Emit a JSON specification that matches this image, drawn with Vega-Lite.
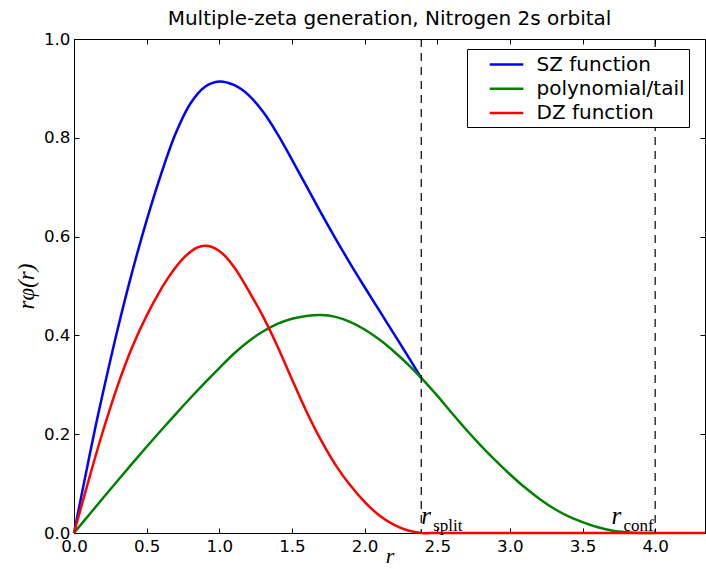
{
  "$schema": "https://vega.github.io/schema/vega-lite/v6.json",
  "width": 631,
  "height": 494,
  "autosize": {"type": "none"},
  "padding": {"left": 74, "top": 39, "right": 1, "bottom": 36},
  "background": "white",
  "title": {"text": "Multiple-zeta generation, Nitrogen 2s orbital", "font": "DejaVu Sans", "fontSize": 20, "fontWeight": "normal", "color": "black", "anchor": "middle", "offset": 2},
  "config": {
    "view": {"stroke": "black", "strokeWidth": 1},
    "axis": {"domainColor": "black", "domainWidth": 1, "tickColor": "black", "labelColor": "black", "labelFont": "DejaVu Sans", "labelFontSize": 16.7, "grid": false, "tickSize": -5, "tickWidth": 1, "labelFlush": false, "labelOverlap": false, "titleColor": "black", "titleFont": "Liberation Serif", "titleFontStyle": "italic", "titleFontWeight": "normal", "titleFontSize": 23},
    "legend": {"orient": "none", "legendX": 393, "legendY": 10, "title": null, "symbolType": "M-1.6,0H1.6", "symbolSize": 441, "symbolStrokeWidth": 2.5, "labelFont": "DejaVu Sans", "labelFontSize": 20, "labelColor": "black", "strokeColor": "black", "fillColor": "white", "padding": 3.5, "symbolOffset": 24, "labelOffset": 18, "rowPadding": 2.3, "cornerRadius": 0, "labelLimit": 400}
  },
  "datasets": {
    "curves": [
      {"r": 0, "v": 0, "series": "SZ function"},
      {"r": 0.05, "v": 0.074, "series": "SZ function"},
      {"r": 0.1, "v": 0.147, "series": "SZ function"},
      {"r": 0.15, "v": 0.218, "series": "SZ function"},
      {"r": 0.2, "v": 0.285, "series": "SZ function"},
      {"r": 0.3, "v": 0.412, "series": "SZ function"},
      {"r": 0.4, "v": 0.528, "series": "SZ function"},
      {"r": 0.5, "v": 0.633, "series": "SZ function"},
      {"r": 0.6, "v": 0.727, "series": "SZ function"},
      {"r": 0.7, "v": 0.809, "series": "SZ function"},
      {"r": 0.8, "v": 0.869, "series": "SZ function"},
      {"r": 0.9, "v": 0.903, "series": "SZ function"},
      {"r": 1.0, "v": 0.914, "series": "SZ function"},
      {"r": 1.1, "v": 0.907, "series": "SZ function"},
      {"r": 1.2, "v": 0.887, "series": "SZ function"},
      {"r": 1.3, "v": 0.853, "series": "SZ function"},
      {"r": 1.4, "v": 0.808, "series": "SZ function"},
      {"r": 1.5, "v": 0.756, "series": "SZ function"},
      {"r": 1.6, "v": 0.702, "series": "SZ function"},
      {"r": 1.7, "v": 0.648, "series": "SZ function"},
      {"r": 1.8, "v": 0.596, "series": "SZ function"},
      {"r": 1.9, "v": 0.546, "series": "SZ function"},
      {"r": 2.0, "v": 0.498, "series": "SZ function"},
      {"r": 2.1, "v": 0.451, "series": "SZ function"},
      {"r": 2.2, "v": 0.404, "series": "SZ function"},
      {"r": 2.3, "v": 0.357, "series": "SZ function"},
      {"r": 2.39, "v": 0.314, "series": "SZ function"},
      {"r": 0, "v": 0, "series": "polynomial/tail"},
      {"r": 0.1, "v": 0.0355, "series": "polynomial/tail"},
      {"r": 0.2, "v": 0.0708, "series": "polynomial/tail"},
      {"r": 0.3, "v": 0.1058, "series": "polynomial/tail"},
      {"r": 0.4, "v": 0.1404, "series": "polynomial/tail"},
      {"r": 0.5, "v": 0.1745, "series": "polynomial/tail"},
      {"r": 0.6, "v": 0.208, "series": "polynomial/tail"},
      {"r": 0.7, "v": 0.2408, "series": "polynomial/tail"},
      {"r": 0.8, "v": 0.2728, "series": "polynomial/tail"},
      {"r": 0.9, "v": 0.3038, "series": "polynomial/tail"},
      {"r": 1.0, "v": 0.3338, "series": "polynomial/tail"},
      {"r": 1.1, "v": 0.3628, "series": "polynomial/tail"},
      {"r": 1.2, "v": 0.3878, "series": "polynomial/tail"},
      {"r": 1.3, "v": 0.4078, "series": "polynomial/tail"},
      {"r": 1.4, "v": 0.4233, "series": "polynomial/tail"},
      {"r": 1.5, "v": 0.4338, "series": "polynomial/tail"},
      {"r": 1.6, "v": 0.4395, "series": "polynomial/tail"},
      {"r": 1.7, "v": 0.4412, "series": "polynomial/tail"},
      {"r": 1.8, "v": 0.4375, "series": "polynomial/tail"},
      {"r": 1.9, "v": 0.4275, "series": "polynomial/tail"},
      {"r": 2.0, "v": 0.412, "series": "polynomial/tail"},
      {"r": 2.1, "v": 0.392, "series": "polynomial/tail"},
      {"r": 2.2, "v": 0.368, "series": "polynomial/tail"},
      {"r": 2.3, "v": 0.341, "series": "polynomial/tail"},
      {"r": 2.39, "v": 0.314, "series": "polynomial/tail"},
      {"r": 2.5, "v": 0.278, "series": "polynomial/tail"},
      {"r": 2.6, "v": 0.243, "series": "polynomial/tail"},
      {"r": 2.7, "v": 0.209, "series": "polynomial/tail"},
      {"r": 2.8, "v": 0.177, "series": "polynomial/tail"},
      {"r": 2.9, "v": 0.147, "series": "polynomial/tail"},
      {"r": 3.0, "v": 0.119, "series": "polynomial/tail"},
      {"r": 3.1, "v": 0.093, "series": "polynomial/tail"},
      {"r": 3.2, "v": 0.07, "series": "polynomial/tail"},
      {"r": 3.3, "v": 0.05, "series": "polynomial/tail"},
      {"r": 3.4, "v": 0.034, "series": "polynomial/tail"},
      {"r": 3.5, "v": 0.022, "series": "polynomial/tail"},
      {"r": 3.6, "v": 0.012, "series": "polynomial/tail"},
      {"r": 3.7, "v": 0.005, "series": "polynomial/tail"},
      {"r": 3.8, "v": 0.0015, "series": "polynomial/tail"},
      {"r": 3.9, "v": 0, "series": "polynomial/tail"},
      {"r": 4.0, "v": 0, "series": "polynomial/tail"},
      {"r": 0, "v": 0, "series": "DZ function"},
      {"r": 0.1, "v": 0.106, "series": "DZ function"},
      {"r": 0.2, "v": 0.207, "series": "DZ function"},
      {"r": 0.3, "v": 0.298, "series": "DZ function"},
      {"r": 0.4, "v": 0.376, "series": "DZ function"},
      {"r": 0.5, "v": 0.44, "series": "DZ function"},
      {"r": 0.6, "v": 0.494, "series": "DZ function"},
      {"r": 0.65, "v": 0.5175, "series": "DZ function"},
      {"r": 0.7, "v": 0.538, "series": "DZ function"},
      {"r": 0.75, "v": 0.5555, "series": "DZ function"},
      {"r": 0.8, "v": 0.569, "series": "DZ function"},
      {"r": 0.85, "v": 0.578, "series": "DZ function"},
      {"r": 0.9, "v": 0.5815, "series": "DZ function"},
      {"r": 0.95, "v": 0.579, "series": "DZ function"},
      {"r": 1.0, "v": 0.571, "series": "DZ function"},
      {"r": 1.05, "v": 0.5575, "series": "DZ function"},
      {"r": 1.1, "v": 0.539, "series": "DZ function"},
      {"r": 1.15, "v": 0.5165, "series": "DZ function"},
      {"r": 1.2, "v": 0.4915, "series": "DZ function"},
      {"r": 1.3, "v": 0.439, "series": "DZ function"},
      {"r": 1.4, "v": 0.378, "series": "DZ function"},
      {"r": 1.5, "v": 0.311, "series": "DZ function"},
      {"r": 1.6, "v": 0.246, "series": "DZ function"},
      {"r": 1.7, "v": 0.188, "series": "DZ function"},
      {"r": 1.8, "v": 0.138, "series": "DZ function"},
      {"r": 1.9, "v": 0.097, "series": "DZ function"},
      {"r": 2.0, "v": 0.063, "series": "DZ function"},
      {"r": 2.1, "v": 0.036, "series": "DZ function"},
      {"r": 2.2, "v": 0.017, "series": "DZ function"},
      {"r": 2.3, "v": 0.005, "series": "DZ function"},
      {"r": 2.39, "v": 0, "series": "DZ function"},
      {"r": 2.5, "v": 0, "series": "DZ function"},
      {"r": 3.0, "v": 0, "series": "DZ function"},
      {"r": 3.5, "v": 0, "series": "DZ function"},
      {"r": 4.0, "v": 0, "series": "DZ function"},
      {"r": 4.343, "v": 0, "series": "DZ function"}
    ],
    "rules": [{"x": 2.39}, {"x": 4.0}],
    "labels": [
      {"x": 2.39, "y": 0, "main": "r", "sub": "split"},
      {"x": 3.7, "y": 0, "main": "r", "sub": "conf"}
    ]
  },
  "layer": [
    {
      "data": {"name": "curves"},
      "transform": [{"filter": "datum.series === 'SZ function'"}],
      "mark": {"type": "line", "strokeWidth": 2.5, "interpolate": "catmull-rom"},
      "encoding": {
        "x": {"field": "r", "type": "quantitative", "scale": {"domain": [0, 4.343], "nice": false, "zero": false},
              "axis": {"orient": "bottom", "values": [0, 0.5, 1, 1.5, 2, 2.5, 3, 3.5, 4], "format": ".1f", "title": "r", "labelPadding": 10, "titlePadding": -9, "titleFontSize": 22}},
        "y": {"field": "v", "type": "quantitative", "scale": {"domain": [0, 1], "nice": false, "zero": false},
              "axis": {"orient": "left", "values": [0, 0.2, 0.4, 0.6, 0.8, 1.0], "format": ".1f", "title": "rφ(r)", "labelPadding": 9, "titlePadding": 5}},
        "color": {"field": "series", "type": "nominal", "scale": {"domain": ["SZ function", "polynomial/tail", "DZ function"], "range": ["#0000ff", "#008000", "#ff0000"]}}
      }
    },
    {
      "data": {"name": "curves"},
      "transform": [{"filter": "datum.series === 'polynomial/tail'"}],
      "mark": {"type": "line", "strokeWidth": 2.5, "interpolate": "catmull-rom"},
      "encoding": {
        "x": {"field": "r", "type": "quantitative", "scale": {"domain": [0, 4.343], "nice": false, "zero": false}, "axis": null},
        "y": {"field": "v", "type": "quantitative", "scale": {"domain": [0, 1], "nice": false, "zero": false}, "axis": null},
        "color": {"field": "series", "type": "nominal", "scale": {"domain": ["SZ function", "polynomial/tail", "DZ function"], "range": ["#0000ff", "#008000", "#ff0000"]}}
      }
    },
    {
      "data": {"name": "curves"},
      "transform": [{"filter": "datum.series === 'DZ function'"}],
      "mark": {"type": "line", "strokeWidth": 2.5, "interpolate": "catmull-rom"},
      "encoding": {
        "x": {"field": "r", "type": "quantitative", "scale": {"domain": [0, 4.343], "nice": false, "zero": false}, "axis": null},
        "y": {"field": "v", "type": "quantitative", "scale": {"domain": [0, 1], "nice": false, "zero": false}, "axis": null},
        "color": {"field": "series", "type": "nominal", "scale": {"domain": ["SZ function", "polynomial/tail", "DZ function"], "range": ["#0000ff", "#008000", "#ff0000"]}}
      }
    },
    {
      "data": {"name": "rules"},
      "mark": {"type": "rule", "color": "black", "strokeWidth": 1.2, "strokeDash": [8, 6]},
      "encoding": {
        "x": {"field": "x", "type": "quantitative", "scale": {"domain": [0, 4.343], "nice": false, "zero": false},
              "axis": {"orient": "top", "values": [0, 0.5, 1, 1.5, 2, 2.5, 3, 3.5, 4], "labels": false, "domain": false, "title": null}}
      }
    },
    {
      "data": {"name": "labels"},
      "mark": {"type": "text", "font": "Liberation Serif", "fontStyle": "italic", "fontSize": 25, "align": "left", "baseline": "alphabetic", "dy": -9, "color": "black"},
      "encoding": {
        "x": {"field": "x", "type": "quantitative", "scale": {"domain": [0, 4.343], "nice": false, "zero": false}, "axis": null},
        "y": {"field": "y", "type": "quantitative", "scale": {"domain": [0, 1], "nice": false, "zero": false},
              "axis": {"orient": "right", "values": [0, 0.2, 0.4, 0.6, 0.8, 1.0], "labels": false, "domain": false, "title": null}},
        "text": {"field": "main"}
      }
    },
    {
      "data": {"name": "labels"},
      "mark": {"type": "text", "font": "Liberation Serif", "fontSize": 17, "align": "left", "baseline": "alphabetic", "dx": 12, "dy": -2, "color": "black"},
      "encoding": {
        "x": {"field": "x", "type": "quantitative", "scale": {"domain": [0, 4.343], "nice": false, "zero": false}, "axis": null},
        "y": {"field": "y", "type": "quantitative", "scale": {"domain": [0, 1], "nice": false, "zero": false}, "axis": null},
        "text": {"field": "sub"}
      }
    }
  ],
  "resolve": {"axis": {"x": "independent", "y": "independent"}}
}
